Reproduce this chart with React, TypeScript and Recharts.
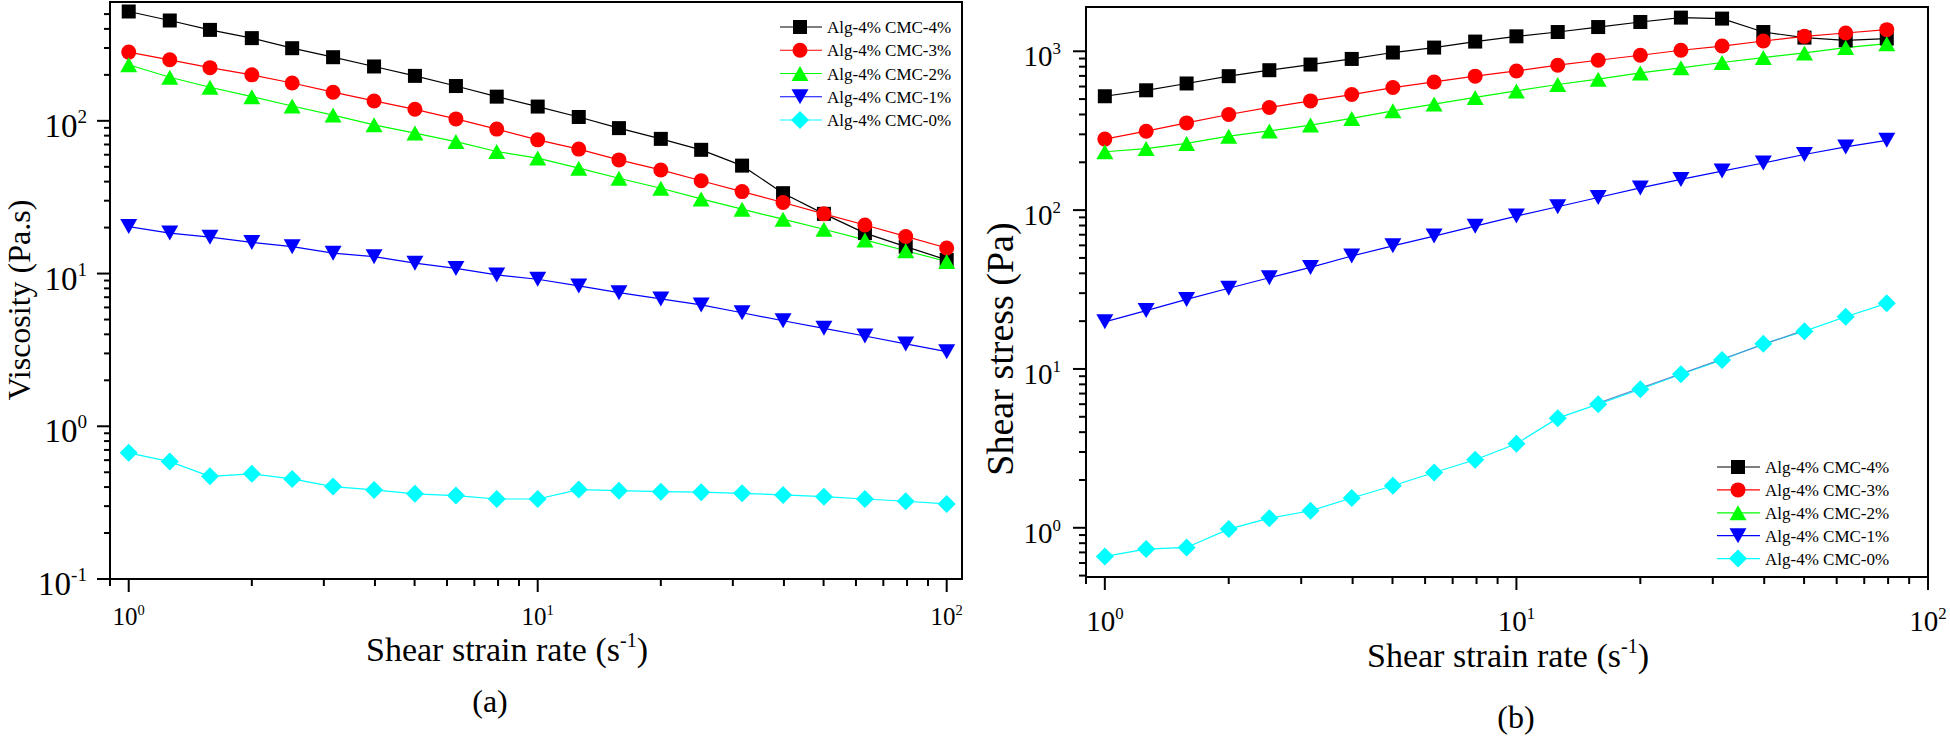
import React from 'react';
import { LineChart, Line, XAxis, YAxis, Legend, ReferenceArea, Label } from 'recharts';

const FONT = '"Liberation Serif", "Times New Roman", Times, serif';

// ---------- data (a): viscosity vs shear strain rate ----------
const shearRateA = [1, 1.26, 1.58, 2, 2.51, 3.16, 3.98, 5.01, 6.31, 7.94, 10, 12.6, 15.8, 20, 25.1, 31.6, 39.8, 50.1, 63.1, 79.4, 100];
const viscCMC4 = [520, 454, 394, 348, 299, 261, 227, 197, 169, 144, 124, 106, 89.6, 76.2, 64.6, 50.9, 33.6, 24.6, 18.4, 15.0, 12.3];
const viscCMC3 = [282, 251, 223, 200, 177, 154, 135, 119, 103, 88.3, 75.1, 65.3, 55.5, 47.7, 40.5, 34.4, 29.2, 24.6, 20.8, 17.5, 14.7];
const viscCMC2 = [233, 193, 166, 144, 125, 109, 94.1, 83.1, 73.1, 63.0, 57.0, 49.0, 42.1, 36.2, 30.8, 26.4, 22.7, 19.5, 16.6, 14.1, 12.0];
const viscCMC1 = [20.3, 18.4, 17.3, 16.0, 15.0, 13.6, 12.9, 11.7, 10.8, 9.8, 9.18, 8.30, 7.50, 6.82, 6.23, 5.54, 4.91, 4.38, 3.90, 3.46, 3.08];
const viscCMC0 = [0.670, 0.587, 0.470, 0.488, 0.452, 0.403, 0.383, 0.361, 0.352, 0.334, 0.334, 0.385, 0.379, 0.373, 0.370, 0.364, 0.355, 0.346, 0.334, 0.323, 0.310];

// ---------- data (b): shear stress vs shear strain rate ----------
const shearRateB = [1, 1.26, 1.58, 2, 2.51, 3.16, 3.98, 5.01, 6.31, 7.94, 10, 12.6, 15.8, 20, 25.1, 31.6, 39.8, 50.1, 63.1, 79.4];
const stressCMC4 = [521, 568, 627, 697, 760, 825, 895, 982, 1055, 1151, 1242, 1322, 1421, 1529, 1629, 1606, 1322, 1219, 1172, 1202];
const stressCMC3 = [280, 314, 354, 400, 443, 487, 534, 591, 641, 697, 752, 817, 878, 944, 1015, 1079, 1161, 1242, 1303, 1368];
const stressCMC2 = [233, 244, 263, 292, 315, 343, 378, 422, 465, 512, 563, 618, 667, 731, 787, 850, 913, 976, 1055, 1117];
const stressCMC1 = [19.8, 23.3, 27.4, 32.2, 37.5, 43.6, 51.4, 59.6, 68.6, 79.2, 91.7, 105, 120, 138, 156, 176, 198, 224, 250, 275];
const stressCMC0 = [0.660, 0.734, 0.752, 0.981, 1.15, 1.28, 1.54, 1.84, 2.23, 2.68, 3.38, 4.90, 6.00, 7.45, 9.26, 11.4, 14.4, 17.3, 21.3, 25.9];
const stressFit = [null, null, null, null, null, null, null, null, null, null, null, null, 6.1, null, null, null, null, 17.6, null, null];

// ---------- series ----------
const seriesKeys = ['cmc4', 'cmc3', 'cmc2', 'cmc1', 'cmc0'];
const seriesNames = ['Alg-4% CMC-4%', 'Alg-4% CMC-3%', 'Alg-4% CMC-2%', 'Alg-4% CMC-1%', 'Alg-4% CMC-0%'];
const seriesColors = ['#000000', '#FF0000', '#00FF00', '#0000FF', '#00FFFF'];
const seriesShapes = ['square', 'circle', 'triangle', 'triangleDown', 'diamond'];

// ---------- ticks ----------
const xTicksA = [0.9, 1, 2, 3, 4, 5, 6, 7, 8, 9, 10, 20, 30, 40, 50, 60, 70, 80, 90, 100];
const yTicksA = [0.1, 0.2, 0.3, 0.4, 0.5, 0.6, 0.7, 0.8, 0.9, 1, 2, 3, 4, 5, 6, 7, 8, 9, 10, 20, 30, 40, 50, 60, 70, 80, 90, 100, 200, 300, 400, 500];
const xTicksB = [0.9, 1, 2, 3, 4, 5, 6, 7, 8, 9, 10, 20, 30, 40, 50, 60, 70, 80, 90, 100];
const yTicksB = [0.5, 0.6, 0.7, 0.8, 0.9, 1, 2, 3, 4, 5, 6, 7, 8, 9, 10, 20, 30, 40, 50, 60, 70, 80, 90, 100, 200, 300, 400, 500, 600, 700, 800, 900, 1000];

const dataA = shearRateA.map((x, i) => ({
  x, cmc4: viscCMC4[i], cmc3: viscCMC3[i], cmc2: viscCMC2[i], cmc1: viscCMC1[i], cmc0: viscCMC0[i],
}));
const dataB = shearRateB.map((x, i) => ({
  x, cmc4: stressCMC4[i], cmc3: stressCMC3[i], cmc2: stressCMC2[i], cmc1: stressCMC1[i], cmc0: stressCMC0[i], fit: stressFit[i],
}));

function Marker({ shape, color, cx, cy }: any) {
  if (cx == null || cy == null) return null;
  switch (shape) {
    case 'square':
      return <rect x={cx - 7} y={cy - 7} width={14} height={14} fill={color} />;
    case 'circle':
      return <circle cx={cx} cy={cy} r={7.5} fill={color} />;
    case 'triangle': {
      const w = 17, h = 15;
      return <polygon points={`${cx},${cy - h / 2} ${cx + w / 2},${cy + h / 2} ${cx - w / 2},${cy + h / 2}`} fill={color} />;
    }
    case 'triangleDown': {
      const w = 17, h = 15;
      return <polygon points={`${cx - w / 2},${cy - h / 2} ${cx + w / 2},${cy - h / 2} ${cx},${cy + h / 2}`} fill={color} />;
    }
    case 'diamond': {
      const r = 9;
      return <polygon points={`${cx},${cy - r} ${cx + r},${cy} ${cx},${cy + r} ${cx - r},${cy}`} fill={color} />;
    }
    default:
      return null;
  }
}

const makeDot = (idx: number) => (p: any) => (
  <g key={`dot-${seriesKeys[idx]}-${p.index}`}>
    <Marker shape={seriesShapes[idx]} color={seriesColors[idx]} cx={p.cx} cy={p.cy} />
  </g>
);

function LogTick(props: any) {
  const { x, y, payload, side, majorLen, minorLen, fontSize, labelGap, baseOff } = props;
  const v = Number(payload.value);
  const e = Math.log10(v);
  const major = Math.abs(e - Math.round(e)) < 1e-6;
  const len = major ? majorLen : minorLen;
  const sup = (
    <tspan dy={-0.42 * fontSize} fontSize={fontSize * 0.58}>{Math.round(e)}</tspan>
  );
  if (side === 'bottom') {
    return (
      <g>
        <line x1={x} x2={x} y1={y} y2={y + len} stroke="#000" strokeWidth={2} />
        {major && (
          <text x={x} y={y + baseOff} textAnchor="middle" fontSize={fontSize} fontFamily={FONT} fill="#000">
            10{sup}
          </text>
        )}
      </g>
    );
  }
  return (
    <g>
      <line x1={x - len} x2={x} y1={y} y2={y} stroke="#000" strokeWidth={2} />
      {major && (
        <text x={x - labelGap} y={y + baseOff} textAnchor="end" fontSize={fontSize} fontFamily={FONT} fill="#000">
          10{sup}
        </text>
      )}
    </g>
  );
}

const makeLegend = (pos: any) => (props: any) => {
  const items = (props.payload || [])
    .filter((e: any) => seriesKeys.indexOf(e.dataKey) >= 0)
    .slice()
    .sort((a: any, b: any) => seriesKeys.indexOf(a.dataKey) - seriesKeys.indexOf(b.dataKey));
  return (
    <svg width={pos.w} height={pos.h} style={{ display: 'block', overflow: 'visible' }}>
      {items.map((e: any, i: number) => {
        const idx = seriesKeys.indexOf(e.dataKey);
        const cy = pos.firstY + i * pos.step;
        return (
          <g key={`leg-${i}`}>
            <line x1={pos.lineX1} x2={pos.lineX2} y1={cy} y2={cy} stroke={seriesColors[idx]} strokeWidth={1.2} />
            <Marker shape={seriesShapes[idx]} color={seriesColors[idx]} cx={pos.markX} cy={cy} />
            <text x={pos.textX} y={cy + 6} fontSize={17} fontFamily={FONT} fill="#000">{e.value}</text>
          </g>
        );
      })}
    </svg>
  );
};

const textLabel = (x: number, y: number, text: any, size: number, rotate = false) => () => (
  <text
    x={x}
    y={y}
    textAnchor="middle"
    fontSize={size}
    fontFamily={FONT}
    fill="#000"
    transform={rotate ? `rotate(-90 ${x} ${y})` : undefined}
  >
    {text}
  </text>
);

const xTitle = (
  <>
    Shear strain rate (s<tspan dy={-14} fontSize={20}>-1</tspan><tspan dy={14}>)</tspan>
  </>
);

function renderSeries(withFit: boolean) {
  const lines = seriesKeys.map((k, idx) => (
    <Line
      key={k}
      dataKey={k}
      name={seriesNames[idx]}
      stroke={seriesColors[idx]}
      strokeWidth={1.2}
      dot={makeDot(idx)}
      activeDot={false}
      isAnimationActive={false}
    />
  ));
  if (withFit) {
    lines.push(
      <Line
        key="fit"
        dataKey="fit"
        stroke="#5b8fd0"
        strokeWidth={1.2}
        dot={false}
        activeDot={false}
        connectNulls
        legendType="none"
        isAnimationActive={false}
      />
    );
  }
  return lines;
}

export default function App() {
  return (
    <div style={{ position: 'absolute', left: 0, top: 0, width: 1950, height: 736, background: '#fff' }}>
      {/* Panel (a) */}
      <div style={{ position: 'absolute', left: 0, top: 0 }}>
        <LineChart width={980} height={736} data={dataA} margin={{ top: 2, right: 18, bottom: 0, left: 0 }}>
          <XAxis
            dataKey="x"
            type="number"
            scale="log"
            domain={[0.9, 109]}
            allowDataOverflow
            ticks={xTicksA}
            interval={0}
            height={157}
            tickSize={0}
            tickMargin={0}
            tickLine={false}
            axisLine={{ stroke: '#000', strokeWidth: 2 }}
            tick={(p: any) => <LogTick {...p} side="bottom" majorLen={13} minorLen={7} fontSize={25} baseOff={46} />}
          >
            <Label content={textLabel(507, 661, xTitle, 34)} />
            <Label content={textLabel(490, 712, '(a)', 32)} />
          </XAxis>
          <YAxis
            type="number"
            scale="log"
            domain={[0.1, 600]}
            allowDataOverflow
            ticks={yTicksA}
            interval={0}
            width={110}
            tickSize={0}
            tickMargin={0}
            tickLine={false}
            axisLine={{ stroke: '#000', strokeWidth: 2 }}
            tick={(p: any) => <LogTick {...p} side="left" majorLen={13} minorLen={6} fontSize={33} labelGap={23} baseOff={16} />}
          >
            <Label content={textLabel(30, 300, 'Viscosity (Pa.s)', 32, true)} />
          </YAxis>
          <ReferenceArea x1={0.9} x2={109} y1={0.1} y2={600} fill="none" stroke="#000" strokeWidth={2} ifOverflow="visible" />
          {renderSeries(false)}
          <Legend
            layout="vertical"
            align="center"
            verticalAlign="middle"
            wrapperStyle={{ left: 770, top: 10, width: 200, height: 130 }}
            content={makeLegend({ w: 200, h: 130, lineX1: 10, lineX2: 52, markX: 30, textX: 57, firstY: 17, step: 23.25 })}
          />
        </LineChart>
      </div>

      {/* Panel (b) */}
      <div style={{ position: 'absolute', left: 980, top: 0 }}>
        <LineChart width={970} height={736} data={dataB} margin={{ top: 7, right: 22, bottom: 0, left: 0 }}>
          <XAxis
            dataKey="x"
            type="number"
            scale="log"
            domain={[0.9, 100]}
            allowDataOverflow
            ticks={xTicksB}
            interval={0}
            height={159}
            tickSize={0}
            tickMargin={0}
            tickLine={false}
            axisLine={{ stroke: '#000', strokeWidth: 2 }}
            tick={(p: any) => <LogTick {...p} side="bottom" majorLen={13} minorLen={7} fontSize={29} baseOff={54} />}
          >
            <Label content={textLabel(528, 667, xTitle, 34)} />
            <Label content={textLabel(536, 728, '(b)', 32)} />
          </XAxis>
          <YAxis
            type="number"
            scale="log"
            domain={[0.49, 1900]}
            allowDataOverflow
            ticks={yTicksB}
            interval={0}
            width={106}
            tickSize={0}
            tickMargin={0}
            tickLine={false}
            axisLine={{ stroke: '#000', strokeWidth: 2 }}
            tick={(p: any) => <LogTick {...p} side="left" majorLen={13} minorLen={7} fontSize={29} labelGap={25} baseOff={15} />}
          >
            <Label content={textLabel(33, 349, 'Shear stress (Pa)', 38, true)} />
          </YAxis>
          <ReferenceArea x1={0.9} x2={100} y1={0.49} y2={1900} fill="none" stroke="#000" strokeWidth={2} ifOverflow="visible" />
          {renderSeries(true)}
          <Legend
            layout="vertical"
            align="center"
            verticalAlign="middle"
            wrapperStyle={{ left: 727, top: 450, width: 200, height: 130 }}
            content={makeLegend({ w: 200, h: 130, lineX1: 10, lineX2: 53, markX: 31, textX: 58, firstY: 17, step: 22.9 })}
          />
        </LineChart>
      </div>
    </div>
  );
}
